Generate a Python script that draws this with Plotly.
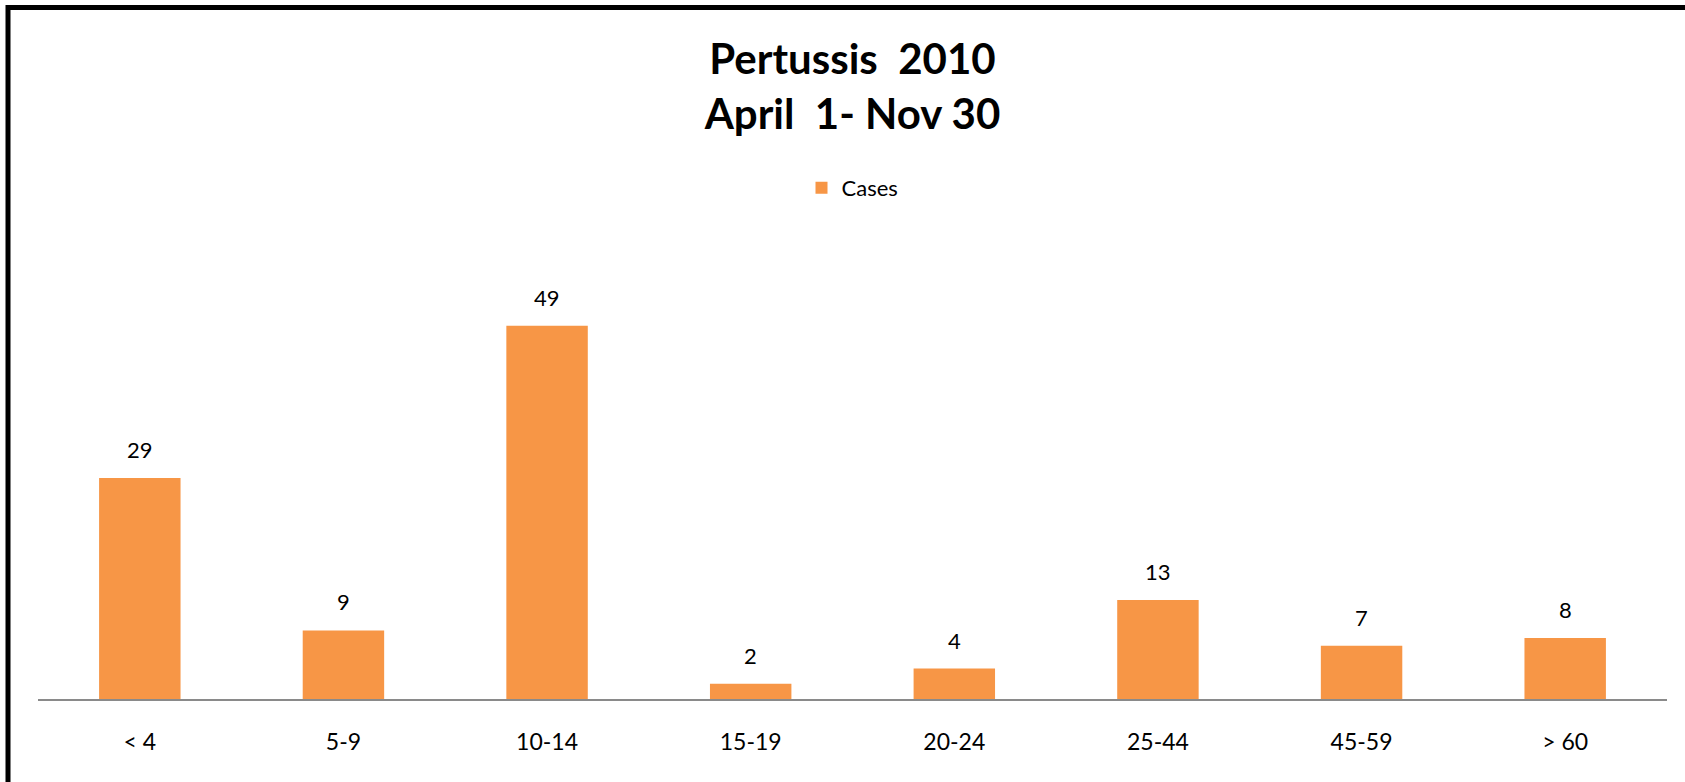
import plotly.graph_objects as go

categories = ["< 4", "5-9", "10-14", "15-19", "20-24", "25-44", "45-59", "> 60"]
cases = [29, 9, 49, 2, 4, 13, 7, 8]
series_name = "Cases"
title_lines = ["Pertussis  2010", "April  1- Nov 30"]

W, H = 1685, 782
L, R, T, B = 38, 18, 242, 83
pw = W - L - R
ph = H - T - B

fig = go.Figure()
fig.add_trace(go.Bar(
    x=categories, y=cases, name=series_name,
    marker=dict(color="#F79646", line=dict(width=0)),
    showlegend=True,
))

for c, v in zip(categories, cases):
    fig.add_annotation(x=c, y=v, text=str(v), showarrow=False,
                       yanchor="bottom", yshift=13,
                       font=dict(family="Lato", size=22, color="#000000"))

# chart border (left and top visible)
bx = (8 - L) / pw
by = (H - B - 7.5) / ph
fig.add_shape(type="path", xref="paper", yref="paper",
              path=f"M {bx},-1 L {bx},{by} L 1.2,{by}",
              line=dict(color="#000000", width=5))

fig.update_layout(
    width=W, height=H,
    margin=dict(l=L, r=R, t=T, b=B, pad=0),
    paper_bgcolor="#ffffff", plot_bgcolor="#ffffff",
    bargap=0.6,
    title=dict(text="<b>" + "<br>".join(title_lines) + "</b>",
               x=0.5, xref="paper", xanchor="center",
               y=1 - 74 / H, yref="container", yanchor="middle",
               font=dict(family="Lato", size=42, color="#000000")),
    legend=dict(orientation="h", x=0.5, xanchor="center",
                y=1 - 188 / H, yref="container", yanchor="middle",
                font=dict(family="Lato", size=22, color="#000000"),
                itemsizing="constant"),
    xaxis=dict(showline=True, linecolor="#8a8a8a", linewidth=2,
               ticks="", showgrid=False, ticklabelstandoff=21,
               tickfont=dict(family="Lato", size=23, color="#000000")),
    yaxis=dict(range=[0, 60], visible=False, showgrid=False, zeroline=False),
)

fig.write_html("out.html",
               config={"displayModeBar": False},
               post_script="document.body.style.margin='0';document.body.style.overflow='hidden';")
